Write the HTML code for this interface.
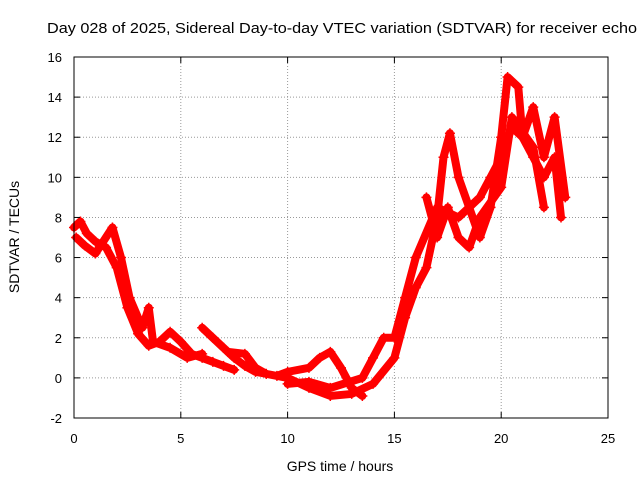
<!DOCTYPE html>
<html><head><meta charset="utf-8"><style>
body{margin:0;background:#fff}
svg{display:block;font-family:"Liberation Sans",sans-serif}
</style></head><body>
<svg id="chart" width="640" height="480">
<text x="47" y="33" font-size="15" textLength="590" lengthAdjust="spacingAndGlyphs">Day 028 of 2025, Sidereal Day-to-day VTEC variation (SDTVAR) for receiver echo</text>
<g id="grid"></g>
<g id="series"></g>
<rect x="74" y="57" width="534" height="361" fill="none" stroke="#000"/>
<g id="ticks"></g>
<text x="340" y="471" font-size="14" text-anchor="middle">GPS time / hours</text>
<text transform="translate(19,237) rotate(-90)" font-size="14" text-anchor="middle">SDTVAR / TECUs</text>
</svg>
<script>
const xTicks=[0,5,10,15,20,25];
const yTicks=[-2,0,2,4,6,8,10,12,14,16];
const trackA=[[0,7.5],[0.3,7.8],[0.6,7.2],[1,6.8],[1.5,6.5],[2,5.5],[2.5,3.5],[3,2.2],[3.5,1.6],[4,1.8],[4.5,2.3],[5,1.8],[5.5,1.2],[6,1.0],[6.5,0.8],[7,0.6],[7.5,0.4]];
const trackB=[[0.1,7.0],[0.5,6.6],[1,6.2],[1.8,7.5],[2.2,6],[2.6,4],[3.2,2.5],[3.5,3.5],[3.7,1.8],[4.5,1.5],[5.3,1.0],[6,1.2]];
const trackC=[[6,2.5],[6.5,2.0],[7,1.5],[7.5,1.0],[8,0.6],[8.5,0.3],[9,0.2]];
const trackD=[[7.2,1.3],[8,1.2],[8.5,0.5],[9,0.2],[10,0],[11,-0.5],[12,-0.9],[13,-0.8],[14,-0.3],[15,1],[15.5,3],[16,4.5],[16.5,5.5],[17,8],[17.3,11],[17.6,12.2],[18,10],[18.5,8.5],[19,7],[19.5,8.5],[20,12],[20.3,15],[20.8,14.5],[21,12],[21.5,11],[22,10],[22.5,11],[22.8,8]];
const trackE=[[9.5,0.1],[10,0.3],[11,0.5],[11.5,1.0],[12,1.3],[12.5,0.5],[13,-0.5],[13.5,-0.9]];
const trackF=[[10,-0.3],[11,-0.2],[12,-0.5],[13.5,0],[14,1],[14.5,2],[15,2],[15.5,4],[16,6],[17,8.5],[18,8],[19,9],[19.5,10],[20,11],[20.5,12.5],[21,12],[21.5,13.5],[22,11],[22.5,13],[23,9]];
const trackG=[[16.5,9],[17,7],[17.5,8.5],[18,7],[18.5,6.5],[19,8],[20,9.5],[20.5,13],[21.5,11.5],[22,8.5]];
const tracks=[trackA,trackB,trackC,trackD,trackE,trackF,trackG];
const NS="http://www.w3.org/2000/svg";
const X=v=>74+v*534/25, Y=v=>418-(v+2)*361/18;
const grid=document.getElementById('grid'),ticks=document.getElementById('ticks'),ser=document.getElementById('series');
function mk(tag,at,p){const e=document.createElementNS(NS,tag);for(const k in at)e.setAttribute(k,at[k]);p.appendChild(e);return e;}
xTicks.forEach(t=>{const x=X(t);
 if(t>0&&t<25){const l=mk('line',{x1:x,x2:x,y1:57,y2:418,stroke:'#999','stroke-dasharray':'1,2'},grid);
 
 }
 const tx=mk('text',{x:x,y:443,'font-size':13,'text-anchor':'middle'},ticks);tx.textContent=t;
 
 
 mk('line',{x1:x,x2:x,y1:418,y2:412,stroke:'#000'},ticks);mk('line',{x1:x,x2:x,y1:57,y2:63,stroke:'#000'},ticks);});
yTicks.forEach(t=>{const y=Y(t);
 if(t>-2&&t<16){const l=mk('line',{x1:74,x2:608,y1:y,y2:y,stroke:'#999','stroke-dasharray':'1,2'},grid);
 
 }
 const tx=mk('text',{x:62,y:y+5,'font-size':13,'text-anchor':'end'},ticks);tx.textContent=t;
 
 
 mk('line',{x1:74,x2:80,y1:y,y2:y,stroke:'#000'},ticks);mk('line',{x1:608,x2:602,y1:y,y2:y,stroke:'#000'},ticks);});
tracks.forEach((tr,i)=>{
 const p=mk('polyline',{points:tr.map(d=>X(d[0])+','+Y(d[1])).join(' '),fill:'none',stroke:'#f00','stroke-width':8,'stroke-linejoin':'round','stroke-linecap':'round'},ser);
 
 
 tr.forEach(d=>{const x=X(d[0]),y=Y(d[1]);
  const m=mk('path',{d:`M${x-5},${y}H${x+5}M${x},${y-5}V${y+5}`,stroke:'#f00','stroke-width':1.5},ser);
  
  });
});
</script>
</body></html>
